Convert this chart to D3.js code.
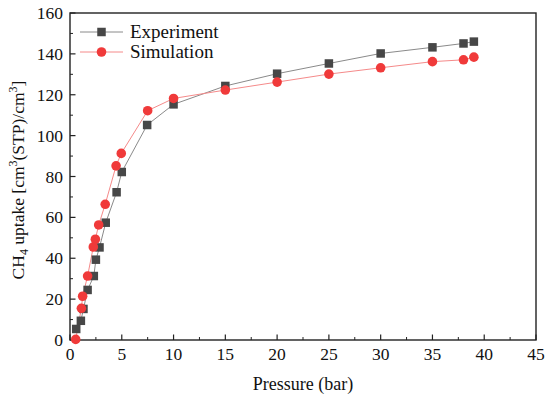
<!DOCTYPE html>
<html><head><meta charset="utf-8">
<script src="https://cdn.jsdelivr.net/npm/d3@7/dist/d3.min.js"></script>
<style>body{margin:0;background:#fff}svg{display:block}text{font-family:"Liberation Serif","Times New Roman",serif;fill:#111}</style>
</head><body>
<script>
const expP = [0.6, 1.05, 1.3, 1.7, 2.3, 2.5, 2.85, 3.45, 4.5, 5.0, 7.45, 10.0, 15.0, 20.0, 25.0, 30.0, 35.0, 38.0, 39.0];
const expV = [5.4, 9.4, 15.2, 24.5, 31.3, 39.3, 45.3, 57.4, 72.3, 82.2, 105.2, 115.3, 124.3, 130.3, 135.3, 140.2, 143.2, 145.1, 146.0];
const simP = [0.55, 1.1, 1.22, 1.7, 2.25, 2.45, 2.77, 3.4, 4.45, 4.95, 7.5, 10.0, 15.0, 20.0, 25.0, 30.0, 35.0, 38.0, 39.0];
const simV = [0.3, 15.5, 21.4, 31.3, 45.5, 49.3, 56.3, 66.4, 85.2, 91.3, 112.2, 118.2, 122.3, 126.2, 130.1, 133.2, 136.2, 137.1, 138.4];
const xTicks = [0,5,10,15,20,25,30,35,40,45];
const yTicks = [0,20,40,60,80,100,120,140,160];
const seriesNames = ["Experiment","Simulation"];

const W=550,H=397, L=70, R=536, T=13, B=340;
const svg=d3.select("body").append("svg").attr("width",W).attr("height",H);
const x=d3.scaleLinear().domain([0,45]).range([L,R]);
const y=d3.scaleLinear().domain([0,160]).range([B,T]);

const g=svg.append("g");
const xMinor=d3.range(2.5,45,5);
const yMinor=d3.range(10,160,20);
g.selectAll(".xmin").data(xMinor).join("line").attr("x1",d=>x(d)).attr("x2",d=>x(d)).attr("y1",B).attr("y2",B-3).attr("stroke","#222").attr("stroke-width",1);
g.selectAll(".xmaj").data(xTicks).join("line").attr("x1",d=>x(d)).attr("x2",d=>x(d)).attr("y1",B).attr("y2",B-5.5).attr("stroke","#222").attr("stroke-width",1.2);
g.selectAll(".ymin").data(yMinor).join("line").attr("y1",d=>y(d)).attr("y2",d=>y(d)).attr("x1",L).attr("x2",L+3).attr("stroke","#222").attr("stroke-width",1);
g.selectAll(".ymaj").data(yTicks).join("line").attr("y1",d=>y(d)).attr("y2",d=>y(d)).attr("x1",L).attr("x2",L+5.5).attr("stroke","#222").attr("stroke-width",1.2);
svg.selectAll(".xl").data(xTicks).join("text").attr("x",d=>x(d)).attr("y",B+20).attr("text-anchor","middle").attr("font-size",17.5).text(d=>d);
svg.selectAll(".yl").data(yTicks).join("text").attr("x",L-7).attr("y",d=>y(d)+6).attr("text-anchor","end").attr("font-size",17.5).text(d=>d);
svg.append("rect").attr("x",L).attr("y",T).attr("width",R-L).attr("height",B-T).attr("fill","none").attr("stroke","#222").attr("stroke-width",1.4);

const expData=expP.map((p,i)=>[p,expV[i]]);
const simData=simP.map((p,i)=>[p,simV[i]]);
const line=d3.line().x(d=>x(d[0])).y(d=>y(d[1]));
svg.append("path").datum(expData).attr("d",line).attr("fill","none").attr("stroke","#8a8a8a").attr("stroke-width",1);
svg.append("path").datum(simData).attr("d",line).attr("fill","none").attr("stroke","#f58a8a").attr("stroke-width",1);
const s=8.5;
svg.selectAll(".sq").data(expData).join("rect").attr("x",d=>x(d[0])-s/2).attr("y",d=>y(d[1])-s/2).attr("width",s).attr("height",s).attr("fill","#474747");
svg.selectAll(".ci").data(simData).join("circle").attr("cx",d=>x(d[0])).attr("cy",d=>y(d[1])).attr("r",4.8).attr("fill","#f03a3a");

const lg=svg.append("g");
const ly=[32,52];
lg.append("line").attr("x1",80).attr("x2",123).attr("y1",ly[0]).attr("y2",ly[0]).attr("stroke","#8a8a8a");
lg.append("rect").attr("x",101.5-s/2).attr("y",ly[0]-s/2).attr("width",s).attr("height",s).attr("fill","#474747");
lg.append("line").attr("x1",80).attr("x2",123).attr("y1",ly[1]).attr("y2",ly[1]).attr("stroke","#f58a8a");
lg.append("circle").attr("cx",101.5).attr("cy",ly[1]).attr("r",4.8).attr("fill","#f03a3a");
lg.selectAll(".lt").data(seriesNames).join("text").attr("x",130).attr("y",(d,i)=>ly[i]+6).attr("font-size",19).text(d=>d);

svg.append("text").attr("x",303).attr("y",390).attr("text-anchor","middle").attr("font-size",18).text("Pressure (bar)");
const yt=svg.append("text").attr("transform",`translate(23.5,180) rotate(-90)`).attr("text-anchor","middle").attr("font-size",17.5);
yt.append("tspan").text("CH");
yt.append("tspan").attr("font-size",12).attr("dy",4).text("4");
yt.append("tspan").attr("dy",-4).text(" uptake [cm");
yt.append("tspan").attr("font-size",12).attr("dy",-7).text("3");
yt.append("tspan").attr("dy",7).text("(STP)/cm");
yt.append("tspan").attr("font-size",12).attr("dy",-7).text("3");
yt.append("tspan").attr("dy",7).text("]");
</script>
</body></html>
